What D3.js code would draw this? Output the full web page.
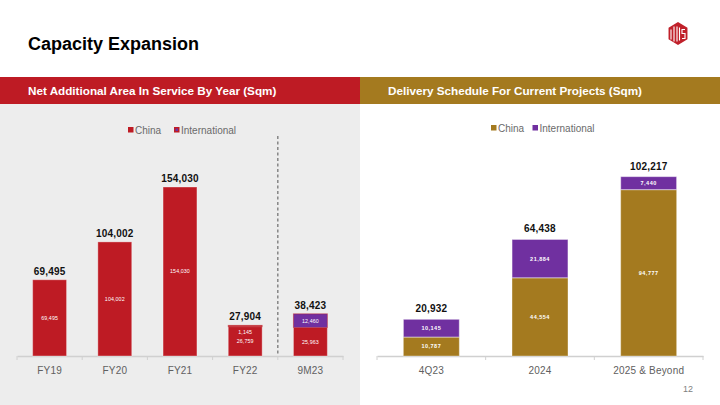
<!DOCTYPE html>
<html><head><meta charset="utf-8">
<script src="https://cdn.jsdelivr.net/npm/d3@7/dist/d3.min.js"></script>
<style>
html,body{margin:0;padding:0;background:#fff;}
svg{display:block;font-family:"Liberation Sans",Arial,sans-serif;}
</style></head>
<body><svg id="c" width="720" height="405"></svg>
<script>
// ---- data ----
const leftCategories = ["FY19","FY20","FY21","FY22","9M23"];
const leftChina = [69495,104002,154030,26759,25963];
const leftIntl = [0,0,0,1145,12460];
const leftTotals = ["69,495","104,002","154,030","27,904","38,423"];
const leftChinaLabels = ["69,495","104,002","154,030","26,759","25,963"];
const leftIntlLabels = ["","","","1,145","12,460"];

const rightCategories = ["4Q23","2024","2025 & Beyond"];
const rightChina = [10787,44554,94777];
const rightIntl = [10145,21884,7440];
const rightTotals = ["20,932","64,438","102,217"];
const rightChinaLabels = ["10,787","44,554","94,777"];
const rightIntlLabels = ["10,145","21,884","7,440"];

const seriesNames = ["China","International"];

// ---- styles ----
const RED = "#BE1B24", GOLD = "#A47A1F", PURPLE = "#7030A0";
const svg = d3.select("#c");

// backgrounds
svg.append("rect").attr("x",0).attr("y",104).attr("width",360).attr("height",301).attr("fill","#EDEDED");
svg.append("rect").attr("x",0).attr("y",77).attr("width",360).attr("height",27).attr("fill",RED);
svg.append("rect").attr("x",360).attr("y",77).attr("width",360).attr("height",27).attr("fill",GOLD);

// title
svg.append("text").attr("x",28).attr("y",50).attr("font-size",18).attr("font-weight","bold").attr("fill","#000").text("Capacity Expansion");
svg.append("text").attr("x",28).attr("y",95).attr("font-size",11.7).attr("font-weight","bold").attr("fill","#fff").text("Net Additional Area In Service By Year (Sqm)");
svg.append("text").attr("x",388).attr("y",95).attr("font-size",11.7).attr("font-weight","bold").attr("fill","#fff").text("Delivery Schedule For Current Projects (Sqm)");

// logo
(function(){
  const cx=678, cy=33.5, r=11.5;
  const pts=d3.range(6).map(i=>{const a=Math.PI/3*i - Math.PI/2; return [cx+r*Math.cos(a)*0.95, cy+r*Math.sin(a)];});
  svg.append("path").attr("d","M"+pts.map(p=>p.join(",")).join("L")+"Z").attr("fill","#C0202A");
  const g=svg.append("g").attr("stroke","#fff").attr("stroke-width",1.1).attr("fill","none");
  g.append("path").attr("d",`M${cx-7},${cy-4}L${cx-7},${cy+6}M${cx-4},${cy-7}L${cx-4},${cy+8}`);
  g.append("path").attr("d",`M${cx-1},${cy-7}L${cx-1},${cy+8}M${cx+1.5},${cy-6}L${cx+1.5},${cy+7}`);
  g.append("path").attr("d",`M${cx+7},${cy-4}L${cx+4},${cy-4}L${cx+4},${cy}L${cx+7},${cy}L${cx+7},${cy+5}L${cx+4},${cy+5}`);
})();

// page number
svg.append("text").attr("x",688).attr("y",392).attr("text-anchor","middle").attr("font-size",9).attr("fill","#808080").text("12");

function drawChart(opt){
  const x = d3.scaleBand().domain(opt.categories).range([opt.x0,opt.x1]).padding(0);
  const y = d3.scaleLinear().domain([0,opt.yMax]).range([opt.base,opt.top]);
  const bw = x.bandwidth()*opt.barFrac;
  const g = svg.append("g");
  // axis
  const ax = g.append("g").attr("transform",`translate(0,${opt.base})`)
    .call(d3.axisBottom(x).tickSize(0).tickPadding(11));
  ax.select(".domain").attr("stroke","#D0D0D0").attr("stroke-width",1.3);
  ax.selectAll("text").attr("font-size",10).attr("fill","#606060").attr("letter-spacing",0.2).attr("font-family","Liberation Sans, Arial, sans-serif");
  const bounds = opt.categories.map(c=>x(c)).concat([opt.x1]);
  g.selectAll(".tk").data(bounds).join("line").attr("x1",d=>d).attr("x2",d=>d)
    .attr("y1",opt.base).attr("y2",opt.base+4).attr("stroke","#D0D0D0").attr("stroke-width",1);

  opt.categories.forEach((c,i)=>{
    const cx = x(c)+x.bandwidth()/2;
    const c0 = opt.china[i], c1 = opt.intl[i];
    // china segment
    g.append("rect").attr("x",cx-bw/2).attr("width",bw).attr("y",y(c0)).attr("height",y(0)-y(c0))
      .attr("fill",opt.chinaColor).attr("stroke","#fff").attr("stroke-opacity",0.35).attr("stroke-width",1);
    if(c1>0){
      g.append("rect").attr("x",cx-bw/2).attr("width",bw).attr("y",y(c0+c1)).attr("height",y(c0)-y(c0+c1))
        .attr("fill",opt.intlColor(i)).attr("stroke",opt.intlStroke).attr("stroke-opacity",0.5).attr("stroke-width",1);
    }
    const top = y(c0+c1);
    g.append("text").attr("x",cx).attr("y",top-opt.totalGap).attr("text-anchor","middle")
      .attr("font-size",10).attr("font-weight","bold").attr("fill","#111").attr("letter-spacing",0.2).text(opt.totals[i]);
    const cm = (y(0)+y(c0))/2;
    g.append("text").attr("x",cx).attr("y",cm).attr("dy","0.35em").attr("text-anchor","middle")
      .attr("font-size",opt.innerSize).attr("font-weight",opt.innerWeight).attr("letter-spacing",opt.innerSpacing)
      .attr("fill","#fff").text(opt.chinaLabels[i]);
    if(opt.intlLabels[i]){
      let im = (y(c0)+y(c0+c1))/2;
      if(y(c0)-y(c0+c1) < 8) im = cm - 8.7;
      g.append("text").attr("x",cx).attr("y",im).attr("dy","0.35em").attr("text-anchor","middle")
        .attr("font-size",opt.innerSize).attr("font-weight",opt.innerWeight).attr("letter-spacing",opt.innerSpacing)
        .attr("fill","#fff").text(opt.intlLabels[i]);
    }
  });
  return {x,y};
}

const L = drawChart({categories:leftCategories, china:leftChina, intl:leftIntl, totals:leftTotals,
  chinaLabels:leftChinaLabels, intlLabels:leftIntlLabels, x0:17, x1:343, base:356, top:158.5, yMax:180000,
  barFrac:0.52, chinaColor:RED, intlColor:i=> (leftIntl[i]<5000?RED:PURPLE), intlStroke:RED, totalGap:5,
  innerSize:5.3, innerWeight:"normal", innerSpacing:0.1});

const R = drawChart({categories:rightCategories, china:rightChina, intl:rightIntl, totals:rightTotals,
  chinaLabels:rightChinaLabels, intlLabels:rightIntlLabels, x0:377, x1:703, base:356, top:145.4, yMax:120000,
  barFrac:0.515, chinaColor:GOLD, intlColor:()=>PURPLE, intlStroke:"#fff", totalGap:7,
  innerSize:5.5, innerWeight:"bold", innerSpacing:0.5});

// dashed separator
svg.append("line").attr("x1",L.x("9M23")).attr("x2",L.x("9M23")).attr("y1",136).attr("y2",354)
  .attr("stroke","#7F7F7F").attr("stroke-width",1.4).attr("stroke-dasharray","3,2.5");

// legends
function legend(xs, y, colors, inner){
  const g = svg.append("g");
  seriesNames.forEach((s,i)=>{
    g.append("rect").attr("x",xs[i]).attr("y",y-3).attr("width",5.5).attr("height",5.5).attr("fill",colors[i]);
    if(inner && inner[i]) g.append("rect").attr("x",xs[i]+1.5).attr("y",y-1.5).attr("width",2.5).attr("height",2.5).attr("fill",inner[i]);
    g.append("text").attr("x",xs[i]+7).attr("y",y).attr("dy","0.35em").attr("font-size",10).attr("fill","#6A6A6A").text(s);
  });
}
legend([128,174],130,[RED,RED],[null,PURPLE]);
legend([491,532.5],128,[GOLD,PURPLE],null);
</script></body></html>
